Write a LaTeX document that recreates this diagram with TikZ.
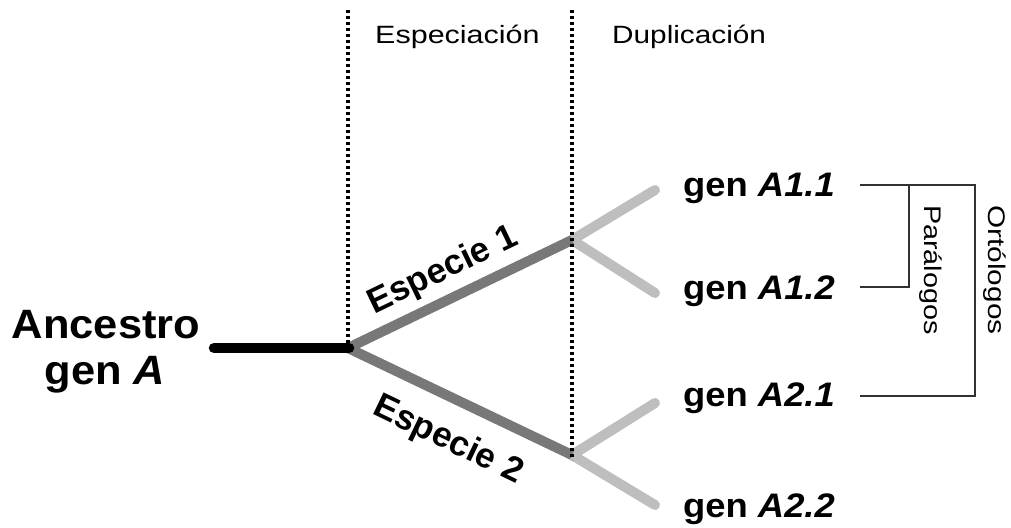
\documentclass[tikz,border=0pt]{standalone}
\usepackage{graphicx}
\usepackage{fontspec}
\setmainfont{Liberation Sans}
\newcommand{\hx}[2]{\scalebox{#1}[1]{#2}}
\tikzset{
  anc/.style={line width=10.5pt,black,line cap=round},
  sp/.style={line width=10pt,color={rgb,255:red,120;green,120;blue,120}},
  dup/.style={line width=10pt,color={rgb,255:red,190;green,190;blue,190},line cap=round},
  sep/.style={line width=3.6pt,dash pattern=on 3.2pt off 2.8pt,black},
  brk/.style={line width=1.2pt,color={rgb,255:red,50;green,50;blue,50}},
  gene/.style={anchor=base west,inner sep=0pt,font=\fontsize{34}{40}\selectfont\bfseries},
  big/.style={anchor=base,inner sep=0pt,font=\fontsize{41}{46}\selectfont\bfseries},
  head/.style={anchor=base west,inner sep=0pt,font=\fontsize{25}{30}\selectfont},
  side/.style={anchor=center,inner sep=0pt,rotate=-90,font=\fontsize{24}{28}\selectfont},
  spl/.style={anchor=base,inner sep=0pt,font=\fontsize{35}{40}\selectfont\bfseries},
}
\begin{document}
\begin{tikzpicture}[x=1pt,y=-1pt]
\useasboundingbox (0,0) rectangle (1011,527);
% coordinates
\coordinate (a0) at (214,348);
\coordinate (root) at (348,348);
\coordinate (s1) at (572,240);
\coordinate (s2) at (572,455);
\coordinate (l11) at (655,190);
\coordinate (l12) at (655,293);
\coordinate (l21) at (655,403);
\coordinate (l22) at (655,505);
\coordinate (t1) at (348,10);
\coordinate (t2) at (572,10);
\coordinate (b1) at (348,352);
\coordinate (b2) at (572,460);
% tree
\draw[dup] (s1) -- (l11);
\draw[dup] (s1) -- (l12);
\draw[dup] (s2) -- (l21);
\draw[dup] (s2) -- (l22);
\draw[sp] (root) -- (s1);
\draw[sp] (root) -- (s2);
\draw[anc] (a0) -- ([xshift=1pt]root);
% dotted separators
\draw[sep] (t1) -- (b1);
\draw[sep] (t2) -- (b2);
% headers
\node[head] (hesp) at (375,44) {\hx{1.22}{Especiación}};
\node[head] (hdup) at (612,44) {\hx{1.19}{Duplicación}};
% ancestor
\node[big] (anc1) at (106,338) {\hx{1.06}{Ancestro}};
\node[big] (anc2) at (105,384) {\hx{1.06}{gen \textit{A}}};
% species labels
\node[spl,rotate=25.7] (sp1) at (447,279) {Especie 1};
\node[spl,rotate=-25.7] (sp2) at (444,449) {Especie 2};
% genes
\node[gene] (g11) at (683,196) {\hx{1.07}{gen \textit{A1.1}}};
\node[gene] (g12) at (683,299) {\hx{1.07}{gen \textit{A1.2}}};
\node[gene] (g21) at (683,406) {\hx{1.07}{gen \textit{A2.1}}};
\node[gene] (g22) at (683,517) {\hx{1.07}{gen \textit{A2.2}}};
% brackets
\coordinate (p1) at (860,185);
\coordinate (p2) at (860,287);
\coordinate (p3) at (860,396);
\coordinate (pin) at (909,185);
\coordinate (pout) at (975,185);
\draw[brk] (p1) -- (pout) |- (p3);
\draw[brk] (pin) |- (p2);
\node[side] (par) at (931,270) {\hx{1.2}{Parálogos}};
\node[side] (ort) at (995,270) {\hx{1.24}{Ortólogos}};
\end{tikzpicture}
\end{document}
